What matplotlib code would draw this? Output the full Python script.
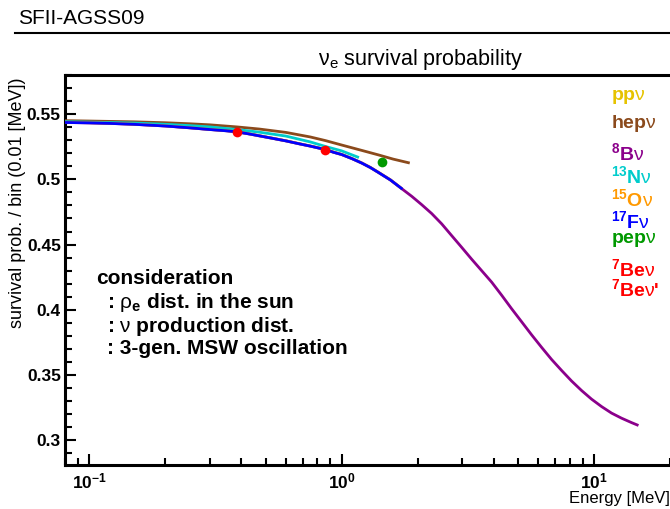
import matplotlib
matplotlib.use("Agg")
import matplotlib.pyplot as plt
from matplotlib.ticker import LogLocator, MultipleLocator, NullFormatter, FixedLocator

plt.rcParams['font.family'] = ['Liberation Sans', 'DejaVu Sans']
plt.rcParams['mathtext.fontset'] = 'custom'
plt.rcParams['mathtext.rm'] = 'Liberation Sans'
plt.rcParams['mathtext.bf'] = 'Liberation Sans:bold'
plt.rcParams['mathtext.it'] = 'Liberation Sans:italic'

# ---------------- data ----------------
E_8B = [0.08, 0.1, 0.12, 0.15, 0.2, 0.25, 0.3, 0.35, 0.384, 0.43, 0.47, 0.53, 0.6, 0.68,
        0.75, 0.862, 0.93, 1.0, 1.1, 1.2, 1.3, 1.4, 1.56, 1.73, 1.894, 2.074, 2.272, 2.489,
        2.726, 2.987, 3.272, 3.585, 3.928, 4.302, 4.713, 5.164, 5.656, 6.196, 6.788, 7.435,
        8.145, 8.923, 9.774, 10.71, 11.73, 12.85, 14.08, 15.0]
P_8B = [0.5436, 0.5433, 0.5429, 0.5422, 0.5409, 0.5395, 0.5382, 0.5372, 0.5364, 0.5348,
        0.5334, 0.5315, 0.5295, 0.5272, 0.5255, 0.5228, 0.5207, 0.5190, 0.5158, 0.5125,
        0.5090, 0.5052, 0.4995, 0.4928, 0.4870, 0.4806, 0.4738, 0.4659, 0.4569, 0.4479,
        0.4388, 0.4300, 0.4212, 0.4112, 0.4008, 0.3908, 0.3808, 0.3712, 0.3619, 0.3535,
        0.3454, 0.3381, 0.3315, 0.3258, 0.3208, 0.3169, 0.3135, 0.3113]

E_pp = [0.08, 0.1, 0.12, 0.15, 0.2, 0.25, 0.3, 0.35, 0.42]
P_pp = [0.5440, 0.5437, 0.5433, 0.5426, 0.5414, 0.5401, 0.5389, 0.5378, 0.5360]

E_hep = [0.08, 0.1, 0.15, 0.2, 0.25, 0.3, 0.384, 0.47, 0.6, 0.75, 0.862, 1.0, 1.2, 1.4,
         1.6, 1.86]
P_hep = [0.5450, 0.5447, 0.5441, 0.5434, 0.5426, 0.5418, 0.5402, 0.5386, 0.5360, 0.5325,
         0.5297, 0.5263, 0.5222, 0.5187, 0.5155, 0.5125]

E_13N = [0.08, 0.1, 0.15, 0.2, 0.25, 0.3, 0.384, 0.47, 0.6, 0.75, 0.862, 1.0, 1.17]
P_13N = [0.5442, 0.5439, 0.5432, 0.5422, 0.5412, 0.5402, 0.5382, 0.5362, 0.5332, 0.5287,
         0.5252, 0.5218, 0.5167]

E_15O = [0.08, 0.1, 0.12, 0.15, 0.2, 0.25, 0.3, 0.35, 0.384, 0.43, 0.47, 0.53, 0.6, 0.68,
         0.75, 0.862, 0.93, 1.0, 1.1, 1.2, 1.3, 1.4, 1.56, 1.73]
P_15O = [0.5437, 0.5434, 0.5430, 0.5423, 0.5410, 0.5396, 0.5383, 0.5373, 0.5365, 0.5349,
         0.5335, 0.5316, 0.5296, 0.5273, 0.5256, 0.5229, 0.5208, 0.5191, 0.5159, 0.5126,
         0.5091, 0.5053, 0.4996, 0.4929]

E_17F = [0.08, 0.1, 0.12, 0.15, 0.2, 0.25, 0.3, 0.35, 0.384, 0.43, 0.47, 0.53, 0.6, 0.68,
         0.75, 0.862, 0.93, 1.0, 1.1, 1.2, 1.3, 1.4, 1.56, 1.74]
P_17F = [0.5436, 0.5433, 0.5429, 0.5422, 0.5409, 0.5395, 0.5382, 0.5372, 0.5364, 0.5348,
         0.5334, 0.5315, 0.5295, 0.5272, 0.5255, 0.5228, 0.5207, 0.5190, 0.5158, 0.5125,
         0.5090, 0.5052, 0.4995, 0.4925]

E_pep = [1.442]
P_pep = [0.5130]

E_7Be = [0.384, 0.862]
P_7Be = [0.5365, 0.5228]

legend_labels = [r'pp$\mathrm{\nu}$', r'hep$\mathrm{\nu}$', r'$^{\mathbf{8}}$B$\mathrm{\nu}$',
                 r'$^{\mathbf{13}}$N$\mathrm{\nu}$', r'$^{\mathbf{15}}$O$\mathrm{\nu}$',
                 r'$^{\mathbf{17}}$F$\mathrm{\nu}$', r'pep$\mathrm{\nu}$',
                 r'$^{\mathbf{7}}$Be$\mathrm{\nu}$', r"$^{\mathbf{7}}$Be$\mathrm{\nu}$'"]

# ---------------- styles ----------------
c_pp = '#e6c300'
c_hep = '#8b4a1c'
c_8B = '#8b008b'
c_13N = '#00cccc'
c_15O = '#ff9900'
c_17F = '#0000ff'
c_pep = '#009900'
c_7Be = '#ff0000'
legend_colors = [c_pp, c_hep, c_8B, c_13N, c_15O, c_17F, c_pep, c_7Be, c_7Be]
legend_y = [100, 128, 160, 183, 206, 228, 243, 276, 296]

W, H = 670, 509
fig = plt.figure(figsize=(W / 100, H / 100), dpi=100)
ax = fig.add_axes([65 / W, 1 - 465 / H, (W - 65) / W, (465 - 75) / H])

lw = 2.0
kw = dict(lw=lw, solid_joinstyle='round', solid_capstyle='butt')
ax.plot(E_pp, P_pp, color=c_pp, zorder=2, **kw)
ax.plot(E_hep, P_hep, color=c_hep, zorder=3, **kw)
ax.plot(E_8B, P_8B, color=c_8B, zorder=3, **kw)
ax.plot(E_13N, P_13N, color=c_13N, zorder=4, **kw)
ax.plot(E_15O, P_15O, color=c_15O, zorder=4, **kw)
ax.plot(E_17F, P_17F, color=c_17F, zorder=5, **kw)
ax.plot(E_pep, P_pep, 'o', color=c_pep, ms=7, mew=0, zorder=6)
ax.plot(E_7Be, P_7Be, 'o', color=c_7Be, ms=7, mew=0, zorder=6)

ax.set_xscale('log')
ax.set_xlim(0.08, 20)
ax.set_ylim(0.281, 0.58)

ax.xaxis.set_major_locator(FixedLocator([0.1, 1, 10]))
ax.set_xticklabels([r'$\mathbf{10^{-1}}$', r'$\mathbf{10^{0}}$', r'$\mathbf{10^{1}}$'])
ax.xaxis.set_minor_locator(LogLocator(base=10, subs=range(2, 10)))
ax.xaxis.set_minor_formatter(NullFormatter())
ax.set_yticks([0.3, 0.35, 0.4, 0.45, 0.5, 0.55])
ax.set_yticklabels(['0.3', '0.35', '0.4', '0.45', '0.5', '0.55'])
ax.yaxis.set_minor_locator(MultipleLocator(0.01))

for lab in ax.get_yticklabels():
    lab.set_fontweight('bold')
ax.tick_params(axis='both', which='major', direction='in', length=8, width=1.5,
               labelsize=12.5, pad=3)
ax.tick_params(axis='both', which='minor', direction='in', length=5, width=1.5)
ax.tick_params(axis='x', which='major', pad=5)
ax.tick_params(top=False, right=False, which='both')

for s in ['left', 'bottom', 'top']:
    ax.spines[s].set_linewidth(2.2)
ax.spines['right'].set_visible(False)

# texts
fig.text(18 / W, 1 - 18 / H, 'SFII-AGSS09', fontsize=15, va='center', ha='left')
fig.add_artist(plt.Line2D([15 / W, 1.0], [1 - 33 / H, 1 - 33 / H], color='black', lw=1.5))
fig.text(420 / W, 1 - 59 / H, r'$\mathrm{\nu}_{\mathrm{e}}$ survival probability', fontsize=15.5,
         ha='center', va='center')
fig.text(18 / W, 1 - 203 / H, 'survival prob. / bin (0.01 [MeV])', rotation=90,
         fontsize=13, ha='center', va='center')
fig.text(670 / W, 1 - 499 / H, 'Energy [MeV]', fontsize=12, ha='right', va='center')

fs_c = 15
fig.text(96 / W, 1 - 279 / H, 'consideration', fontsize=fs_c, fontweight='bold', ha='left', va='center')
fig.text(107 / W, 1 - 303 / H, r': $\mathrm{\rho}_{\mathbf{e}}$ dist. in the sun', fontsize=fs_c,
         fontweight='bold', ha='left', va='center')
fig.text(107 / W, 1 - 326 / H, r': $\mathrm{\nu}$ production dist.', fontsize=fs_c,
         fontweight='bold', ha='left', va='center')
fig.text(107 / W, 1 - 348 / H, ': 3-gen. MSW oscillation', fontsize=fs_c,
         fontweight='bold', ha='left', va='center')

for lab, col, yy in zip(legend_labels, legend_colors, legend_y):
    fig.text(611 / W, 1 - yy / H, lab, color=col, fontsize=14, fontweight='bold',
             ha='left', va='baseline')

fig.savefig('out.png', dpi=100)
